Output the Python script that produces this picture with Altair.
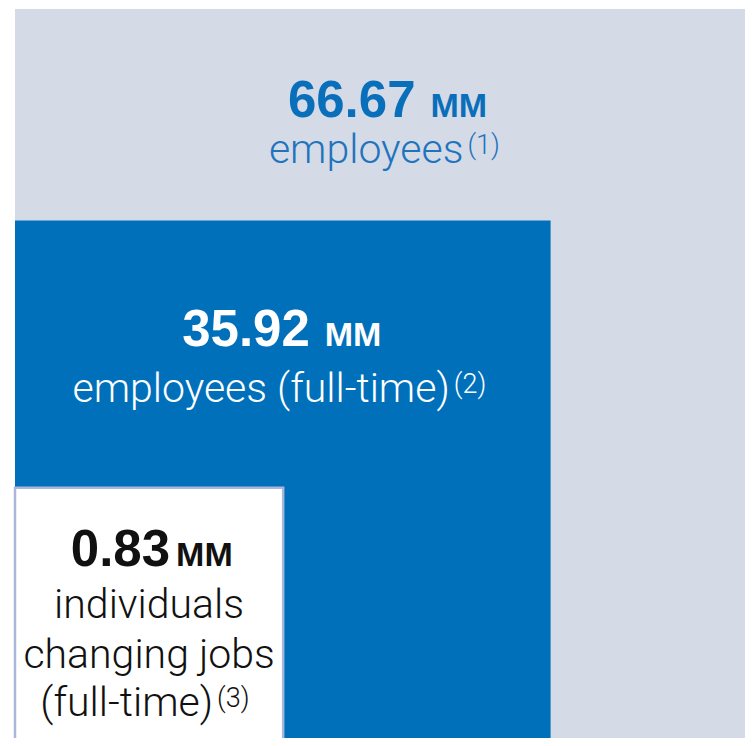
import altair as alt
import pandas as pd

# ---- data -------------------------------------------------------------
values = ["66.67", "35.92", "0.83"]
unit = "MM"
descriptions = [
    ["employees"],
    ["employees (full-time)"],
    ["individuals", "changing jobs", "(full-time)"],
]
notes = ["(1)", "(2)", "(3)"]
# displayed side of each square (outer square = 100)
box_side = [100.0, 71.7, 35.9]

# ---- styling ----------------------------------------------------------
FILL = ["#d5dae7", "#0070bb", "#ffffff"]
NUM_COLOR = ["#0a6fba", "#ffffff", "#111111"]
DESC_COLOR = ["#1f74bd", "#ffffff", "#111111"]
PX = 7.47  # pixels per data unit (747px outer square)

# pixel offsets of text from each square's top / centre
num_dy = [108, 126, 78]
num_dx = [27, 27, 21]
unit_dx = [42, 42, 27]
desc_dy = [[154], [182], [130, 180, 228]]
note_dx = [75, 167, 64]

boxes = pd.DataFrame({
    "name": ["outer", "middle", "inner"],
    "x0": [0.0] * 3,
    "y0": [0.0] * 3,
    "side": box_side,
})

nums, units_rows, descs, notes_rows = [], [], [], []
for i, s in enumerate(box_side):
    cx = s / 2
    nums.append({"x": cx + num_dx[i] / PX, "y": s - num_dy[i] / PX,
                 "text": values[i], "c": NUM_COLOR[i]})
    units_rows.append({"x": cx + unit_dx[i] / PX, "y": s - num_dy[i] / PX,
                       "text": unit, "c": NUM_COLOR[i]})
    lines = descriptions[i]
    for j, line in enumerate(lines):
        last = j == len(lines) - 1
        if last:
            descs.append({"x": cx + note_dx[i] / PX, "y": s - desc_dy[i][j] / PX,
                          "text": line, "c": DESC_COLOR[i], "a": "right"})
            notes_rows.append({"x": cx + (note_dx[i] + 4) / PX,
                               "y": s - (desc_dy[i][j] - 9) / PX,
                               "text": notes[i], "c": DESC_COLOR[i]})
        else:
            descs.append({"x": cx, "y": s - desc_dy[i][j] / PX,
                          "text": line, "c": DESC_COLOR[i], "a": "center"})

xs = alt.Scale(domain=[0, 100], range=[7, 754])
ys = alt.Scale(domain=[0, 100], range=[748, 1])

base = alt.Chart(boxes)

rects = base.mark_rect().encode(
    x=alt.X("x0:Q", scale=xs, axis=None),
    x2="side:Q",
    y=alt.Y("y0:Q", scale=ys, axis=None),
    y2="side:Q",
    fill=alt.Fill("name:N", scale=alt.Scale(domain=["outer", "middle", "inner"], range=FILL), legend=None),
    order=alt.Order("side:Q", sort="descending"),
)

inner_border = base.transform_filter(alt.datum.name == "inner").mark_rect(
    fill="#ffffff", stroke="#aab7da", strokeWidth=2.5
).encode(
    x=alt.X("x0:Q", scale=xs, axis=None),
    x2="side:Q",
    y=alt.Y("y0:Q", scale=ys, axis=None),
    y2="side:Q",
)

def text_layer(rows, **kw):
    return alt.Chart(pd.DataFrame(rows)).mark_text(baseline="alphabetic", **kw).encode(
        x=alt.X("x:Q", scale=xs, axis=None),
        y=alt.Y("y:Q", scale=ys, axis=None),
        text="text:N",
        color=alt.Color("c:N", scale=None),
    )

num_layer = text_layer(nums, align="right", font="Liberation Sans", fontWeight="bold", fontSize=51)
unit_layer = text_layer(units_rows, align="left", font="Liberation Sans", fontWeight="bold", fontSize=34)

desc_df = pd.DataFrame(descs)
desc_center = text_layer(desc_df[desc_df.a == "center"].to_dict("records"), align="center",
                         font="Roboto", fontWeight=300, fontSize=41)
desc_right = text_layer(desc_df[desc_df.a == "right"].to_dict("records"), align="right",
                        font="Roboto", fontWeight=300, fontSize=41)
note_layer = text_layer(notes_rows, align="left", font="Roboto", fontWeight=300, fontSize=27)

chart = alt.layer(
    rects, inner_border, num_layer, unit_layer, desc_center, desc_right, note_layer
).properties(
    width=737, height=730, padding=0,
    autosize=alt.AutoSizeParams(type="none"),
    background="#ffffff",
).configure_view(stroke=None)

chart.save("out.html", embed_options={"renderer": "svg", "actions": False})
